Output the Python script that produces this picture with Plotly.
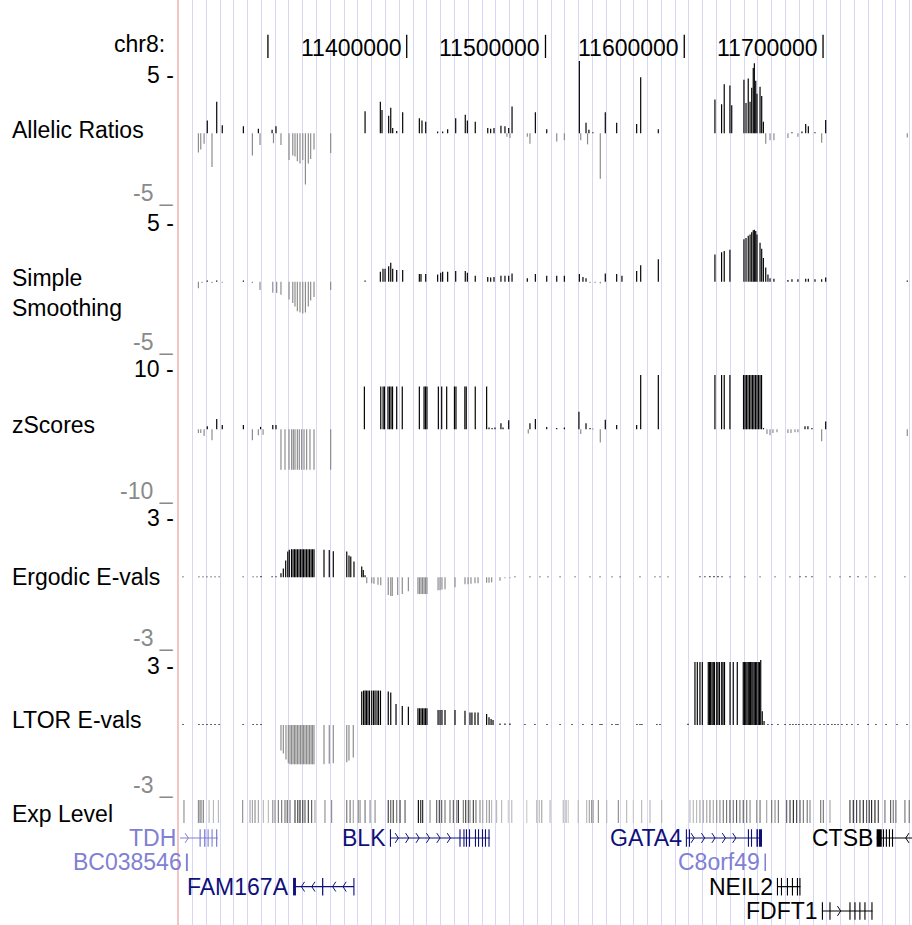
import plotly.graph_objects as go

W, H = 912, 925
X_RANGE = [11235.2, 11764.1]          # visible window, kb on chr8
GRID_TICK0, GRID_DTICK = 11394.67, 9.939

# ---------------- data ----------------
ruler_kb = [11300, 11400, 11500, 11600, 11700]
ruler_text = ["", "11400000", "11500000", "11600000", "11700000"]

allelic_kb = [11249.9, 11251.6, 11254.0, 11256.3, 11259.7, 11263.1, 11267.1, 11282.3, 11288.8, 11293.1,
              11294.3, 11303.0, 11304.0, 11305.8, 11309.4, 11315.2, 11317.9, 11319.5, 11321.2, 11323.1,
              11325.1, 11327.0, 11329.1, 11330.8, 11333.2, 11345.2, 11370.0, 11381.0, 11382.2, 11387.0,
              11388.5, 11389.9, 11392.8, 11397.1, 11409.1, 11411.0, 11413.7, 11422.3, 11425.9, 11429.5,
              11435.3, 11442.2, 11443.7, 11449.4, 11458.4, 11460.5, 11462.9, 11467.9, 11470.8, 11472.2,
              11473.5, 11474.4, 11475.9, 11486.9, 11488.8, 11492.7, 11500.9, 11508.1, 11513.6, 11524.4,
              11525.4, 11529.2, 11530.3, 11531.3, 11534.2, 11539.5, 11543.1, 11551.3, 11565.7, 11568.6,
              11581.3, 11622.1, 11626.9, 11628.8, 11632.9, 11634.2, 11643.0, 11644.5, 11646.1, 11647.4,
              11648.6, 11649.7, 11650.5, 11651.5, 11652.4, 11654.6, 11655.8, 11657.0, 11658.7, 11661.8,
              11664.6, 11674.7, 11677.6, 11681.9, 11684.8, 11687.5, 11689.4, 11694.2, 11699.0, 11701.9,
              11760.7]
allelic_val = [-1.65, -1.4, -0.9, 1.1, -2.9, 2.7, 0.7, 0.6, -1.9, 0.4,
               -1.0, 0.3, -0.85, 0.6, -1.0, -2.3, -1.9, -2.0, -2.4, -2.6,
               -2.3, -4.4, -2.6, -2.2, -1.4, -1.7, 1.9, 2.7, 2.0, 1.5,
               2.2, 0.45, 0.2, 1.8, 1.3, 1.1, 1.0, 0.15, 0.15, 0.35,
               1.3, 1.6, 1.1, 1.0, 0.45, 0.4, 0.45, 0.65, 0.6, -0.3,
               0.45, -0.4, 2.3, -0.3, -0.9, 1.8, 0.35, -0.7, -0.6, 6.2,
               -0.6, 0.9, -0.95, 0.3, 0.1, -3.9, 1.8, 0.9, 0.8, 4.8,
               0.35, 2.9, 2.5, 4.2, 4.1, 2.4, 4.6, 2.6, 4.7, 2.7,
               3.9, 5.6, 6.0, 4.5, 3.4, 4.0, 3.2, 1.0, -0.9, -0.6,
               -0.6, -0.4, 0.1, -0.3, 0.15, 0.8, 0.6, 0.1, -0.8, 1.15,
               -0.35]

smooth_kb = [11249.9, 11252.5, 11256.3, 11259.7, 11263.1, 11267.1, 11282.3, 11288.8, 11294.3, 11303.5,
             11306.3, 11309.4, 11315.2, 11317.9, 11319.5, 11321.2, 11323.1, 11325.1, 11327.0, 11329.1,
             11330.8, 11333.2, 11345.2, 11370.0, 11381.0, 11382.9, 11384.4, 11387.0, 11388.5, 11389.9,
             11392.8, 11397.1, 11409.1, 11410.3, 11413.7, 11422.3, 11424.5, 11425.9, 11429.5, 11435.3,
             11442.2, 11443.7, 11449.4, 11458.4, 11460.5, 11462.9, 11467.9, 11470.8, 11473.5, 11475.9,
             11486.9, 11492.7, 11500.9, 11508.1, 11513.6, 11524.4, 11527.0, 11529.2, 11532.1, 11535.7,
             11539.5, 11543.1, 11551.3, 11555.1, 11565.7, 11568.6, 11581.3, 11622.1, 11626.9, 11628.8,
             11632.9, 11643.0, 11644.5, 11646.1, 11647.4, 11648.6, 11649.7, 11650.5, 11651.5, 11652.4,
             11654.6, 11655.8, 11657.0, 11658.7, 11660.3, 11661.8, 11664.6, 11674.7, 11677.6, 11681.9,
             11687.5, 11689.4, 11694.2, 11699.0, 11701.9, 11760.7]
smooth_val = [-0.55, -0.1, 0.1, -0.1, 0.1, -0.08, 0.1, -0.1, -0.7, -0.93,
              -0.95, -1.1, -1.5, -1.8, -2.1, -2.5, -2.6, -2.7, -2.6, -2.1,
              -1.6, -1.3, -0.7, 0.1, 0.85, 1.1, 1.1, 1.3, 1.6, 1.1,
              1.0, 1.0, 0.65, 0.65, 0.65, 0.6, 0.75, 0.85, 0.85, 0.9,
              0.9, 0.75, 0.5, 0.4, 0.35, 0.4, 0.5, 0.5, 0.5, 0.7,
              0.3, 0.65, 0.5, 0.5, 0.5, 0.65, 0.4, 0.3, -0.1, -0.1,
              -0.15, 0.7, 0.65, 0.5, 0.9, 1.4, 1.9, 2.3, 2.5, 2.6,
              2.7, 3.6, 3.7, 3.9, 4.0, 4.2, 4.35, 4.4, 4.3, 4.0,
              3.3, 2.8, 2.0, 1.2, 0.6, 0.3, 0.25, 0.15, 0.2, 0.2,
              0.25, 0.25, 0.2, 0.2, 0.35, 0.1]

zscore_kb = [11249.9, 11251.6, 11254.0, 11256.3, 11259.7, 11263.1, 11267.1, 11282.3, 11288.8, 11293.1,
             11294.7, 11296.5, 11303.5, 11305.8,
             11309.4, 11312.3, 11315.2, 11317.1, 11318.3, 11319.5, 11321.2, 11322.6, 11324.3, 11326.0,
             11327.9, 11330.3, 11333.2, 11345.2,
             11369.5, 11381.3, 11383.0, 11384.0, 11386.5, 11387.6, 11388.7, 11389.8, 11392.8, 11396.8,
             11409.1, 11412.5, 11413.5, 11414.6, 11422.8, 11425.2, 11428.8, 11434.4, 11435.5, 11441.9,
             11442.9, 11449.4, 11457.6,
             11459.3, 11461.5, 11463.6, 11467.9, 11469.4, 11473.5, 11487.6, 11488.8, 11492.7, 11500.9,
             11508.1, 11513.6, 11524.1, 11525.4, 11529.2, 11532.1, 11534.2, 11539.5, 11543.1, 11551.3,
             11565.7,
             11568.6, 11581.3, 11622.1, 11626.9, 11628.8, 11632.9, 11642.7, 11643.8, 11644.8, 11645.9,
             11647.0, 11648.1, 11649.2, 11650.2, 11651.3, 11652.4, 11653.5, 11654.6, 11655.7,
             11657.1, 11659.6, 11661.8, 11663.9, 11666.8, 11674.7, 11676.9, 11679.8, 11681.9, 11687.0,
             11689.1, 11692.0, 11699.0, 11701.9, 11760.7]
zscore_val = [-0.6, -0.6, -1.1, 0.5, -1.8, 1.7, 0.7, 0.7, -1.8, -1.0,
              0.4, -0.9, 0.7, 0.7,
              -6.7, -6.7, -6.7, -6.7, -6.7, -6.7, -6.7, -6.7, -6.7, -6.7,
              -6.7, -6.7, -6.7, -6.7,
              7.1, 7.1, 7.1, 7.1, 7.1, 7.1, 7.1, 7.1, 7.1, 7.1,
              7.1, 7.1, 7.1, 7.1, 7.1, 7.1, 7.1, 7.1, 7.1, 7.1,
              7.1, 7.1, 7.1,
              0.3, 0.2, 0.3, 1.0, 0.3, 1.5, -0.7, 1.0, 1.7, 0.4,
              0.2, 0.3, 2.9, -0.8, 1.0, 0.2, 0.1, -2.2, 1.6, 0.7,
              0.7,
              9.0, 9.0, 9.0, 9.0, 9.0, 9.0, 9.0, 9.0, 9.0, 9.0,
              9.0, 9.0, 9.0, 9.0, 9.0, 9.0, 9.0, 9.0, 9.0,
              0.2, -0.8, -1.0, -0.6, -0.5, -0.6, -0.6, -0.5, -0.5, 0.5,
              0.5, 0.2, -2.0, 1.3, -1.1]

ergodic_kb = [11238.8, 11250.3, 11253.2, 11256.1, 11259.0, 11261.9, 11264.8, 11282.1, 11289.3, 11292.1,
              11295.0, 11303.0, 11305.8,
              11309.4, 11311.1, 11312.8, 11314.3, 11315.4,
              11317.0, 11318.1, 11319.2, 11320.2, 11321.3, 11322.4, 11323.5, 11324.6, 11325.6, 11326.7,
              11327.8, 11328.9, 11330.0, 11331.1, 11332.1, 11333.2,
              11340.4, 11344.2, 11347.1, 11356.8, 11358.4, 11359.7, 11362.0, 11367.6, 11368.7, 11370.0,
              11371.2, 11374.8, 11376.4, 11379.3, 11381.3, 11386.7, 11388.5, 11389.6, 11393.5, 11396.8,
              11401.2, 11408.1, 11409.2, 11410.3, 11411.4, 11412.5, 11413.5, 11414.6,
              11422.6, 11424.0, 11425.4, 11427.6, 11434.8, 11442.0, 11444.2, 11446.3, 11449.2, 11451.4,
              11457.6, 11459.3, 11461.2, 11467.2, 11470.8, 11474.4,
              11478.0, 11488.8, 11496.0, 11501.8, 11510.5, 11521.3, 11532.1, 11539.3, 11547.9, 11553.7,
              11568.1, 11578.9, 11582.5, 11588.3, 11611.3, 11614.9, 11618.5, 11621.4, 11624.3, 11627.2,
              11632.9, 11643.7, 11654.6, 11665.4, 11676.2, 11683.4, 11687.7, 11692.0, 11705.0, 11712.2,
              11719.4, 11725.2, 11730.9, 11737.4, 11759.0]
ergodic_val = [0.04, 0.04, 0.04, 0.04, 0.04, 0.04, 0.04, 0.04, 0.04, 0.04,
               0.06, 0.05, 0.05,
               0.2, 0.45, 0.85, 1.3, 1.4,
               1.42, 1.42, 1.42, 1.42, 1.42, 1.42, 1.42, 1.42, 1.42, 1.42,
               1.42, 1.42, 1.42, 1.42, 1.42, 1.42,
               1.4, 1.38, 1.32, 1.3, 1.1, 1.05, 0.8, 0.55, 0.37, 0.1,
               -0.3, -0.3, -0.32, -0.38, -0.4, -0.9, -0.95, -0.95, -0.9, -0.85,
               -0.7, -0.85, -0.85, -0.85, -0.85, -0.85, -0.85, -0.85,
               -0.65, -0.65, -0.62, -0.6, -0.5, -0.35, -0.35, -0.33, -0.3, -0.3,
               -0.28, -0.28, -0.25, -0.17, -0.05, -0.05,
               0.04, 0.04, 0.04, 0.04, 0.04, 0.04, 0.04, 0.04, 0.04, 0.04,
               0.04, 0.04, 0.04, 0.04, 0.05, 0.05, 0.06, 0.06, 0.06, 0.05,
               0.04, 0.04, 0.04, 0.04, 0.04, 0.05, 0.05, 0.05, 0.04, 0.04,
               0.05, 0.05, 0.04, 0.04, 0.04]

ltor_kb = [11238.8, 11250.3, 11253.2, 11256.1, 11259.0, 11261.9, 11264.8, 11282.1, 11289.3, 11292.1,
           11295.0,
           11309.4, 11311.1, 11313.0, 11314.7,
           11315.9, 11317.0, 11318.1, 11319.2, 11320.2, 11321.3, 11322.4, 11323.5, 11324.6, 11325.6,
           11326.7, 11327.8, 11328.9, 11330.0, 11331.1, 11332.1, 11333.2,
           11340.4, 11344.2, 11347.1, 11356.8, 11358.4, 11361.5,
           11367.6, 11368.9, 11370.0, 11371.0, 11372.1, 11373.2, 11374.8, 11376.1, 11377.2, 11378.6,
           11379.7, 11381.1, 11386.7, 11388.5, 11392.3, 11396.8, 11401.2,
           11408.1, 11409.2, 11410.3, 11411.4, 11412.5, 11413.5, 11414.6,
           11422.6, 11424.0, 11425.4, 11427.6, 11434.8, 11442.0, 11445.6, 11447.0, 11449.2, 11451.4,
           11457.6, 11459.3, 11460.8, 11462.2, 11467.2, 11470.8, 11474.4,
           11485.2, 11492.4, 11501.1, 11510.5, 11519.1, 11527.0, 11533.5, 11539.3, 11540.7, 11547.9,
           11550.8, 11552.2, 11565.9, 11568.1, 11569.5, 11580.3, 11582.5, 11602.7,
           11607.7, 11609.4, 11611.3, 11613.0, 11617.3, 11618.2, 11619.0, 11620.0, 11620.9, 11621.8,
           11623.4, 11624.3, 11625.4, 11627.0, 11627.9, 11629.0, 11633.0, 11635.3, 11638.2, 11642.5,
           11643.4, 11644.3, 11645.2, 11646.1, 11646.9, 11647.8, 11648.7, 11649.5, 11650.4, 11651.3,
           11652.2, 11653.3, 11654.2, 11655.1, 11656.2, 11657.5,
           11660.3, 11663.2, 11667.5, 11672.6, 11676.2, 11678.3, 11680.5, 11682.6, 11685.5, 11688.4,
           11691.3, 11694.2, 11697.8, 11700.7, 11703.6, 11706.4, 11708.6, 11710.8, 11713.6, 11717.2,
           11720.8, 11725.2, 11732.4, 11738.1, 11745.4, 11753.3, 11760.5]
ltor_val = [0.05, 0.05, 0.05, 0.05, 0.05, 0.05, 0.05, 0.05, 0.05, 0.05,
            0.05,
            -1.3, -1.45, -1.75, -1.95,
            -2.0, -2.0, -2.0, -2.0, -2.0, -2.0, -2.0, -2.0, -2.0, -2.0,
            -2.0, -2.0, -2.0, -2.0, -2.0, -2.0, -2.0,
            -2.0, -1.97, -1.95, -1.9, -1.8, -1.65,
            1.7, 1.75, 1.75, 1.75, 1.75, 1.75, 1.75, 1.75, 1.75, 1.75,
            1.75, 1.75, 1.7, 1.65, 1.07, 0.97, 0.93,
            0.85, 0.85, 0.85, 0.85, 0.85, 0.85, 0.85,
            0.76, 0.76, 0.76, 0.76, 0.76, 0.73, 0.63, 0.63, 0.63, 0.63,
            0.56, 0.4, 0.3, 0.25, 0.08, 0.08, 0.08,
            0.05, 0.05, 0.05, 0.05, 0.05, 0.05, 0.05, 0.05, 0.05, 0.05,
            0.05, 0.05, 0.05, 0.05, 0.05, 0.05, 0.05, 0.06,
            3.2, 3.2, 3.2, 3.2, 3.2, 3.2, 3.2, 3.2, 3.2, 3.2,
            3.2, 3.2, 3.2, 3.2, 3.2, 3.2, 3.2, 3.2, 3.2, 3.2,
            3.2, 3.2, 3.2, 3.2, 3.2, 3.2, 3.2, 3.2, 3.2, 3.2,
            3.2, 3.2, 3.2, 3.3, 0.7, 0.2,
            0.05, 0.05, 0.05, 0.05, 0.05, 0.05, 0.05, 0.05, 0.05, 0.05,
            0.05, 0.05, 0.05, 0.05, 0.05, 0.05, 0.05, 0.05, 0.05, 0.05,
            0.05, 0.05, 0.05, 0.05, 0.05, 0.05, 0.05]

exp_kb = [11239.5, 11249.9, 11251.1, 11252.3, 11253.5, 11257.6, 11260.7, 11264.3, 11281.8, 11287.1,
          11288.8, 11290.7, 11293.1, 11296.7, 11300.3, 11303.5, 11305.1, 11307.5, 11309.9, 11312.3,
          11313.9, 11315.9, 11319.5, 11321.5, 11323.1, 11325.1, 11326.7, 11329.1, 11331.5, 11333.9,
          11341.1, 11345.9, 11356.8, 11359.2, 11361.5, 11365.1, 11366.4, 11370.0, 11373.6, 11377.2,
          11386.7, 11388.5, 11390.3, 11392.8, 11395.2, 11398.8, 11408.4, 11410.1, 11411.5, 11416.8,
          11421.6, 11423.5, 11425.2, 11427.6, 11431.2, 11433.6, 11436.0, 11437.2, 11440.8, 11442.5,
          11444.4, 11445.6, 11448.0, 11449.9, 11452.8, 11454.8, 11457.6, 11459.5, 11461.2, 11464.8,
          11468.4, 11473.2, 11475.7, 11486.5, 11493.7, 11495.5, 11497.3, 11503.3, 11512.8, 11514.8,
          11516.4, 11523.6, 11529.7, 11531.6, 11533.3, 11534.4, 11538.1, 11544.1, 11552.5, 11558.5,
          11563.3, 11569.3, 11575.3, 11583.7, 11604.1, 11606.5, 11608.9, 11611.3, 11613.7, 11616.2,
          11618.5, 11620.9, 11623.4, 11625.7, 11628.1, 11630.5, 11632.9, 11635.3, 11637.7, 11640.1,
          11642.5, 11645.0, 11647.4, 11652.2, 11654.6, 11659.4, 11663.0, 11665.4, 11667.8, 11673.8,
          11676.2, 11678.6, 11681.0, 11683.4, 11685.8, 11688.6, 11690.6, 11698.3, 11700.2, 11705.0,
          11719.4, 11721.8, 11724.2, 11726.6, 11729.0, 11731.4, 11733.3, 11735.0, 11737.4, 11739.8,
          11744.6, 11748.7, 11750.6, 11752.5, 11759.0, 11762.1]
exp_level = [0.5, 0.5, 0.6, 0.4, 0.5, 0.3, 0.3, 0.3, 0.5, 0.4,
             0.4, 0.5, 0.4, 0.3, 0.3, 0.5, 0.5, 0.6, 0.6, 0.6,
             0.7, 0.6, 0.8, 0.8, 0.9, 0.8, 0.7, 0.8, 0.7, 0.4,
             0.5, 0.5, 0.6, 0.6, 0.4, 0.5, 0.5, 0.6, 0.5, 0.5,
             0.8, 0.7, 0.8, 0.6, 0.8, 0.7, 1.0, 0.9, 0.9, 0.5,
             0.7, 0.8, 0.7, 0.6, 0.6, 0.7, 0.5, 0.9, 0.6, 0.8,
             0.7, 0.5, 0.8, 0.6, 0.5, 0.4, 0.4, 0.5, 0.3, 0.3,
             0.3, 0.2, 0.3, 0.2, 0.3, 0.3, 0.4, 0.3, 0.3, 0.4,
             0.2, 0.3, 0.3, 0.4, 0.5, 0.4, 0.5, 0.3, 0.5, 0.3,
             0.2, 0.3, 0.3, 0.3, 0.3, 0.3, 0.3, 0.4, 0.4, 0.4,
             0.5, 0.4, 0.5, 0.5, 0.6, 0.6, 0.7, 0.6, 0.7, 0.6,
             0.7, 0.6, 0.5, 0.5, 0.6, 0.4, 0.6, 0.5, 0.6, 0.7,
             0.8, 0.9, 0.8, 0.7, 0.6, 0.6, 0.5, 0.6, 0.6, 0.4,
             0.8, 0.9, 0.8, 0.8, 0.9, 0.7, 0.8, 0.9, 0.9, 0.8,
             0.6, 0.7, 0.6, 0.6, 0.6, 0.6]

LIGHT, DARK, BLACK = "rgb(128,128,212)", "rgb(16,16,122)", "rgb(0,0,0)"
gene_name = ["TDH", "BC038546", "FAM167A", "BLK", "GATA4", "C8orf49", "CTSB", "NEIL2", "FDFT1"]
gene_row = [1, 2, 3, 1, 1, 2, 1, 3, 4]
gene_start = [11236.6, 11240.9, 11318.1, 11388.0, 11601.2, 11657.8, 11738.6, 11666.8, 11699.2]
gene_end = [11264.0, 11242.3, 11362.0, 11460.0, 11656.0, 11658.9, 11772.0, 11683.7, 11735.6]
gene_strand = ["+", "", "-", "+", "+", "", "-", "", "+"]
gene_color = [LIGHT, LIGHT, DARK, DARK, DARK, LIGHT, BLACK, BLACK, BLACK]
gene_exons = [
    [(11250.7, 11251.6), (11254.0, 11255.0), (11256.5, 11257.3), (11259.4, 11260.1), (11262.6, 11263.5)],
    [(11240.9, 11242.3)],
    [(11318.1, 11320.2), (11339.0, 11339.9), (11361.7, 11362.2)],
    [(11388.0, 11388.6), (11438.0, 11438.8), (11440.9, 11441.6), (11442.7, 11443.4), (11444.9, 11445.6),
     (11449.2, 11449.9), (11451.4, 11452.1), (11454.2, 11455.0), (11456.4, 11457.1), (11458.9, 11459.7)],
    [(11601.2, 11601.9), (11603.4, 11604.1), (11645.9, 11646.6), (11648.1, 11648.8), (11652.0, 11653.1),
     (11653.8, 11656.0)],
    [(11657.8, 11658.9)],
    [(11738.6, 11742.3), (11743.2, 11743.9), (11745.3, 11746.0), (11747.5, 11748.2), (11749.7, 11750.4)],
    [(11666.8, 11667.5), (11669.7, 11670.4), (11674.0, 11674.7), (11677.6, 11678.3), (11681.2, 11681.9),
     (11683.0, 11683.7)],
    [(11699.2, 11699.9), (11704.6, 11705.4), (11719.0, 11719.8), (11722.6, 11723.4), (11726.2, 11726.9),
     (11729.8, 11730.6), (11734.9, 11735.6)],
]

# ---------------- layout helpers ----------------
FONT = "Liberation Sans, Arial, Helvetica, sans-serif"
FS = 23
NEG_GRAY = "#8c8c8c"
BAR_W = 0.85   # kb, a little over one pixel
EXON_HALF = 0.36   # half exon height in gene-row units


def pp(px):
    return 1 - px / H


def sig_axis(ptop, pbot, pzero, vref, pref):
    s = (pzero - pref) / vref
    return dict(domain=[pp(pbot), pp(ptop)], range=[-(pbot - pzero) / s, (pzero - ptop) / s],
                visible=False, anchor="x", fixedrange=True)


fig = go.Figure()
layout_axes = {}
annotations = []

# background full-height subplot (carries the guideline grid)
layout_axes["yaxis"] = dict(domain=[0, 1], range=[0, 1], visible=False, anchor="x", fixedrange=True)
fig.add_trace(go.Scatter(x=[X_RANGE[0]], y=[0.5], mode="markers", marker=dict(opacity=0),
                         hoverinfo="skip", yaxis="y"))

# ruler
layout_axes["yaxis2"] = dict(domain=[pp(62), pp(30)], range=[0, 1], visible=False, anchor="x", fixedrange=True)
rx, ry = [], []
for k in ruler_kb:
    rx += [k, k, None]
    ry += [0.1, 0.85, None]
fig.add_trace(go.Scatter(x=rx, y=ry, mode="lines", line=dict(color="black", width=1.3),
                         hoverinfo="skip", yaxis="y2"))
for k, t in zip(ruler_kb, ruler_text):
    if t:
        annotations.append(dict(x=k, y=pp(47.5), xref="x", yref="paper", text=t, showarrow=False,
                                xanchor="right", yanchor="middle", xshift=-3,
                                font=dict(family=FONT, size=FS, color="black")))
annotations.append(dict(x=167 / W, y=pp(44), xref="paper", yref="paper", text="chr8:", showarrow=False,
                        xanchor="right", yanchor="middle", font=dict(family=FONT, size=FS, color="black")))

# signal tracks
tracks = [
    ("Allelic Ratios", allelic_kb, allelic_val, 5, (58, 205, 133.3, 75.0), 130),
    ("Simple<br>Smoothing", smooth_kb, smooth_val, 5, (210, 356, 281.7, 222.7), 293),
    ("zScores", zscore_kb, zscore_val, 10, (360, 502, 429.3, 369.0), 425),
    ("Ergodic E-vals", ergodic_kb, ergodic_val, 3, (505, 652, 577.3, 518.0), 577),
    ("LTOR E-vals", ltor_kb, ltor_val, 3, (655, 798, 725.0, 666.0), 720),
]
for i, (name, xs, vs, lim, geo, label_px) in enumerate(tracks):
    ax = "yaxis%d" % (i + 3)
    ref = "y%d" % (i + 3)
    ptop, pbot, pzero, pref = geo
    layout_axes[ax] = sig_axis(ptop, pbot, pzero, lim, pref)
    fig.add_trace(go.Bar(x=xs, y=vs, width=BAR_W, yaxis=ref,
                         marker=dict(color=["black" if v >= 0 else NEG_GRAY for v in vs], line=dict(width=0)),
                         hoverinfo="skip"))
    annotations.append(dict(x=10 / W, y=pp(label_px), xref="paper", yref="paper", text=name, showarrow=False,
                            xanchor="left", yanchor="middle", align="left",
                            font=dict(family=FONT, size=FS, color="black")))
    annotations.append(dict(x=176 / W, y=lim, xref="paper", yref=ref, text="%d -" % lim, showarrow=False,
                            xanchor="right", yanchor="middle", font=dict(family=FONT, size=FS, color="black")))
    annotations.append(dict(x=176 / W, y=-lim, xref="paper", yref=ref, text="-%d _" % lim, showarrow=False,
                            xanchor="right", yanchor="middle", yshift=-1,
                            font=dict(family=FONT, size=FS, color="#8a8a8a")))

# expression level
layout_axes["yaxis8"] = dict(domain=[pp(823), pp(800)], range=[0, 1], visible=False, anchor="x", fixedrange=True)
exp_colors = ["rgb(%d,%d,%d)" % ((round(225 * (1 - v ** 1.4)),) * 3) for v in exp_level]
fig.add_trace(go.Bar(x=exp_kb, y=[1] * len(exp_kb), width=0.8, yaxis="y8",
                     marker=dict(color=exp_colors, line=dict(width=0)), hoverinfo="skip"))
annotations.append(dict(x=10 / W, y=pp(814), xref="paper", yref="paper", text="Exp Level", showarrow=False,
                        xanchor="left", yanchor="middle", font=dict(family=FONT, size=FS, color="black")))

# genes
layout_axes["yaxis9"] = dict(domain=[0, pp(826)], range=[4.576, 0.507], visible=False, anchor="x",
                             fixedrange=True)
CHEV_STEP, CHEV_W, CHEV_H = 7.5, 2.3, 0.2
for name, row, s, e, strand, col, exons in zip(gene_name, gene_row, gene_start, gene_end, gene_strand,
                                               gene_color, gene_exons):
    if e - s > 2:
        fig.add_trace(go.Scatter(x=[s, e], y=[row, row], mode="lines", line=dict(color=col, width=1.2),
                                 hoverinfo="skip", yaxis="y9"))
    if strand:
        cx, cy = [], []
        p = s + CHEV_STEP * 0.8
        while p < e - 1.0:
            if all(not (a - 2.0 <= p <= b + 2.5) for a, b in exons):
                d = -CHEV_W if strand == "+" else CHEV_W
                cx += [p + d, p, p + d, None]
                cy += [row - CHEV_H, row, row + CHEV_H, None]
            p += CHEV_STEP
        fig.add_trace(go.Scatter(x=cx, y=cy, mode="lines", line=dict(color=col, width=1),
                                 hoverinfo="skip", yaxis="y9"))
    fig.add_trace(go.Bar(x=[(a + b) / 2 for a, b in exons], y=[2 * EXON_HALF] * len(exons),
                         base=[row - EXON_HALF] * len(exons), width=[max(b - a, 0.8) for a, b in exons],
                         marker=dict(color=col, line=dict(width=0)), hoverinfo="skip", yaxis="y9"))
    annotations.append(dict(x=s, y=row, xref="x", yref="y9", text=name, showarrow=False,
                            xanchor="right", yanchor="middle", xshift=-2,
                            font=dict(family=FONT, size=FS, color=col)))

fig.update_layout(
    width=W, height=H, margin=dict(l=0, r=0, t=0, b=0),
    paper_bgcolor="white", plot_bgcolor="white",
    showlegend=False, hovermode=False, barmode="overlay",
    xaxis=dict(domain=[178 / W, 1], range=X_RANGE, anchor="y", fixedrange=True,
               showgrid=True, gridcolor="#d8d8f6", gridwidth=1,
               tickmode="linear", tick0=GRID_TICK0, dtick=GRID_DTICK,
               showticklabels=False, ticks="", zeroline=False, showline=False),
    annotations=annotations,
    shapes=[dict(type="line", xref="paper", yref="paper", x0=178 / W, x1=178 / W, y0=0, y1=1,
                 line=dict(color="#f2b0b0", width=1.5), layer="above")],
    **layout_axes,
)

fig.write_html("out.html", config={"staticPlot": True},
               post_script="document.body.style.margin='0px';document.body.style.overflow='hidden';")
